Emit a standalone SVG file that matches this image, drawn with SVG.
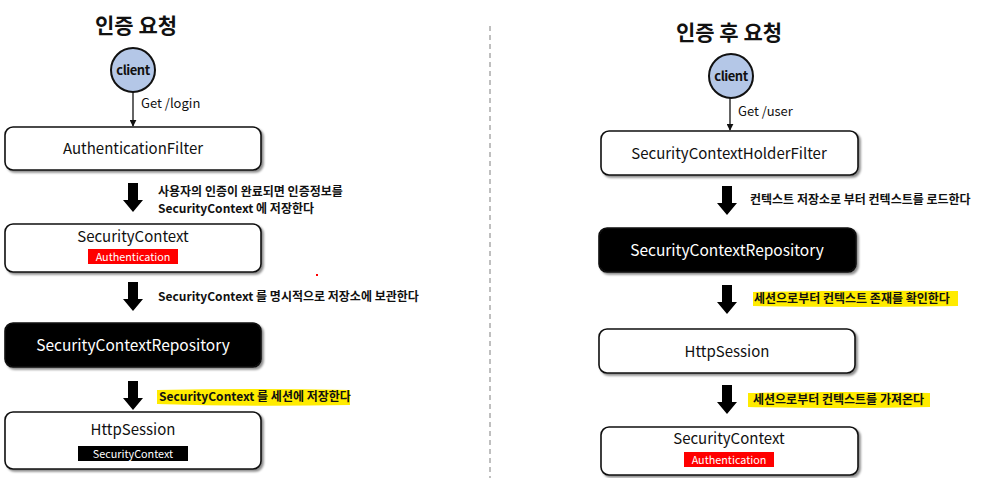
<svg xmlns="http://www.w3.org/2000/svg" width="984" height="478" viewBox="0 0 984 478">
<style>
text{font-family:"Noto Sans CJK KR","Noto Sans",sans-serif;fill:#111;}
.title{font-size:21px;font-weight:bold;text-anchor:middle;}
.box{fill:#fff;stroke:#111;stroke-width:1.6;filter:url(#sh);}
.dark{fill:#000;stroke:#111;stroke-width:1.6;filter:url(#sh);}
.name{font-size:15px;text-anchor:middle;}
.wname{font-size:15.5px;text-anchor:middle;fill:#fff;}
.tag{font-size:10.8px;text-anchor:middle;fill:#fff;}
.lbl{font-size:12px;font-weight:600;}
.get{font-size:13px;}
.cl{fill:#b4c7e7;stroke:#111;stroke-width:2;}
.cltxt{font-size:13px;font-weight:bold;text-anchor:middle;letter-spacing:-0.5px;}
.hl{fill:#ffeb00;}
.line{stroke:#111;stroke-width:1.3;fill:none;}
</style>
<defs>
<filter id="sh" x="-5%" y="-10%" width="115%" height="130%">
<feDropShadow dx="2" dy="2" stdDeviation="1.2" flood-color="#000" flood-opacity="0.45"/>
</filter>
<marker id="ah" viewBox="0 0 10 10" refX="9" refY="5" markerWidth="7" markerHeight="7" orient="auto" markerUnits="userSpaceOnUse">
<path d="M0,0 L10,5 L0,10 z" fill="#111"/>
</marker>
<path id="bigarrow" d="M-5,0 L5,0 L5,17 L10,17 L0,29 L-10,17 L-5,17 z" fill="#000"/>
</defs>

<line x1="490" y1="26" x2="490" y2="478" stroke="#aaa" stroke-width="1.5" stroke-dasharray="5,4"/>

<text class="title" x="136" y="33">인증 요청</text>
<text class="title" x="729" y="40">인증 후 요청</text>

<g id="connectors">
<line class="line" x1="133" y1="92" x2="133" y2="126" marker-end="url(#ah)"/>
<text class="get" x="141" y="108">Get /login</text>
<use href="#bigarrow" x="133" y="183"/>
<use href="#bigarrow" x="133" y="282"/>
<use href="#bigarrow" x="133" y="381"/>
<line class="line" x1="730" y1="98" x2="730" y2="130" marker-end="url(#ah)"/>
<text class="get" x="738" y="116">Get /user</text>
<use href="#bigarrow" x="727" y="186"/>
<use href="#bigarrow" x="727" y="285"/>
<use href="#bigarrow" x="727" y="385"/>
</g>

<g id="labels">
<text class="lbl" x="158" y="196">사용자의 인증이 완료되면 인증정보를</text>
<text class="lbl" x="158" y="213">SecurityContext 에 저장한다</text>
<text class="lbl" x="158" y="301">SecurityContext 를 명시적으로 저장소에 보관한다</text>
<path class="hl" d="M157,390 Q250,388 350,390 L350,405 Q250,407 157,404 z"/>
<text class="lbl" x="159" y="401">SecurityContext 를 세션에 저장한다</text>
<text class="lbl" x="750" y="204">컨텍스트 저장소로 부터 컨텍스트를 로드한다</text>
<path class="hl" d="M753,292 Q850,290 958,291 L958,306 Q850,308 753,306 z"/>
<text class="lbl" x="754" y="303">세션으로부터 컨텍스트 존재를 확인한다</text>
<path class="hl" d="M748,393 Q840,391 930,393 L930,407 Q840,409 748,407 z"/>
<text class="lbl" x="753" y="404">세션으로부터 컨텍스트를 가져온다</text>
</g>

<g id="client-left">
<circle class="cl" cx="133" cy="70" r="22"/>
<text class="cltxt" x="133" y="75">client</text>
</g>
<g id="authfilter">
<rect class="box" x="5" y="127" width="256" height="43" rx="8"/>
<text class="name" x="133" y="154">AuthenticationFilter</text>
</g>
<g id="securitycontext-left">
<rect class="box" x="5" y="224" width="256" height="48" rx="8"/>
<text class="name" x="133" y="242">SecurityContext</text>
<rect x="88" y="249" width="90" height="15" fill="#ff0000"/>
<text class="tag" x="133" y="261">Authentication</text>
</g>
<g id="repo-left">
<rect class="dark" x="5" y="323" width="256" height="44" rx="8"/>
<text class="wname" x="133" y="351">SecurityContextRepository</text>
</g>
<g id="httpsession-left">
<rect class="box" x="5" y="412" width="256" height="57" rx="8"/>
<text class="name" x="133" y="435">HttpSession</text>
<rect x="78" y="446" width="110" height="15" fill="#000"/>
<text class="tag" x="133" y="458">SecurityContext</text>
</g>

<g id="client-right">
<circle class="cl" cx="731" cy="76" r="22"/>
<text class="cltxt" x="731" y="81">client</text>
</g>
<g id="holderfilter">
<rect class="box" x="601" y="131" width="257" height="44" rx="8"/>
<text class="name" x="729" y="159">SecurityContextHolderFilter</text>
</g>
<g id="repo-right">
<rect class="dark" x="599" y="228" width="257" height="44" rx="8"/>
<text class="wname" x="727" y="256">SecurityContextRepository</text>
</g>
<g id="httpsession-right">
<rect class="box" x="599" y="329" width="256" height="44" rx="8"/>
<text class="name" x="727" y="357">HttpSession</text>
</g>
<g id="securitycontext-right">
<rect class="box" x="601" y="427" width="257" height="48" rx="8"/>
<text class="name" x="729" y="444">SecurityContext</text>
<rect x="684" y="452" width="90" height="15" fill="#ff0000"/>
<text class="tag" x="729" y="464">Authentication</text>
</g>
<rect x="316" y="274" width="2" height="2" fill="#ff0000"/>
</svg>
